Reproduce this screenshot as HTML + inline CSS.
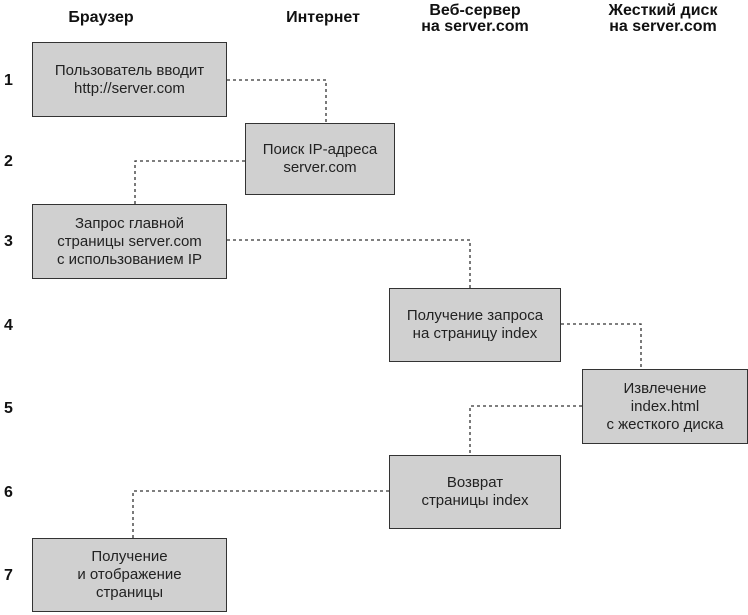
<!DOCTYPE html>
<html><head><meta charset="utf-8"><style>
body{margin:0;width:748px;height:615px;background:#fff;position:relative;overflow:hidden;font-family:"Liberation Sans",Arial,sans-serif}
.b{position:absolute;background:#d0d0d0;border:1.5px solid #333;box-sizing:border-box;display:flex;align-items:center;justify-content:center;text-align:center;font-size:15px;line-height:18px;color:#222}
.h{position:absolute;font-weight:bold;font-size:16px;line-height:16px;text-align:center;transform:translateX(-50%);white-space:nowrap;color:#111}
.n{position:absolute;left:4px;font-weight:bold;font-size:16px;color:#111}
svg{position:absolute;left:0;top:0}
</style></head><body>
<div class="h" style="left:101px;top:10px">Браузер</div>
<div class="h" style="left:323px;top:10px">Интернет</div>
<div class="h" style="left:475px;top:3px">Веб-сервер<br>на server.com</div>
<div class="h" style="left:663px;top:3px">Жесткий диск<br>на server.com</div>
<div class="n" style="top:72px">1</div>
<div class="n" style="top:153px">2</div>
<div class="n" style="top:233px">3</div>
<div class="n" style="top:317px">4</div>
<div class="n" style="top:400px">5</div>
<div class="n" style="top:484px">6</div>
<div class="n" style="top:567px">7</div>
<svg width="748" height="615"><g stroke="#333" stroke-width="1.3" stroke-dasharray="3,3" fill="none">
<path d="M227 80H326V123"/><path d="M245 161H135V204"/><path d="M227 240H470V288"/>
<path d="M561 324H641V369"/><path d="M582 406H470V455"/><path d="M389 491H133V538"/></g></svg>
<div class="b" style="left:32px;top:42px;width:195px;height:75px">Пользователь вводит<br>http://server.com</div>
<div class="b" style="left:245px;top:123px;width:150px;height:72px">Поиск IP-адреса<br>server.com</div>
<div class="b" style="left:32px;top:204px;width:195px;height:75px">Запрос главной<br>страницы server.com<br>с использованием IP</div>
<div class="b" style="left:389px;top:288px;width:172px;height:74px">Получение запроса<br>на страницу index</div>
<div class="b" style="left:582px;top:369px;width:166px;height:75px">Извлечение<br>index.html<br>с жесткого диска</div>
<div class="b" style="left:389px;top:455px;width:172px;height:74px">Возврат<br>страницы index</div>
<div class="b" style="left:32px;top:538px;width:195px;height:74px">Получение<br>и отображение<br>страницы</div>
</body></html>
